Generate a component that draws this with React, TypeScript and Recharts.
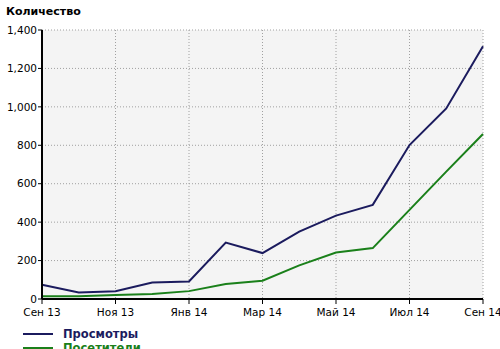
import React from 'react';
import { LineChart, Line, XAxis, YAxis, CartesianGrid, Legend } from 'recharts';

const months = ['Сен 13', 'Окт 13', 'Ноя 13', 'Дек 13', 'Янв 14', 'Фев 14', 'Мар 14', 'Апр 14', 'Май 14', 'Июн 14', 'Июл 14', 'Авг 14', 'Сен 14'];
const views = [74, 34, 40, 86, 91, 294, 239, 351, 434, 490, 801, 992, 1316];
const visitors = [14, 14, 21, 26, 41, 78, 95, 175, 242, 265, 464, 663, 859];
const xTicks = [0, 2, 4, 6, 8, 10, 12];
const yTicks = [0, 200, 400, 600, 800, 1000, 1200, 1400];

const seriesViews = { name: 'Просмотры', color: '#1b1b5e' };
const seriesVisitors = { name: 'Посетители', color: '#1a801a' };

const data = months.map((m, i) => ({ idx: i, month: m, views: views[i], visitors: visitors[i] }));

const FONT = '"DejaVu Sans", Verdana, sans-serif';

const LegendContent = () => (
  <div style={{ fontFamily: FONT, textAlign: 'left' }}>
    {[seriesViews, seriesVisitors].map((s) => (
      <div key={s.name} style={{ display: 'flex', alignItems: 'center', height: 14 }}>
        <div style={{ width: 30, height: 2, background: s.color, marginRight: 10 }} />
        <span style={{ color: s.color, fontWeight: 'bold', fontSize: 11.5 }}>{s.name}</span>
      </div>
    ))}
  </div>
);

export default function App() {
  return (
    <div style={{ position: 'absolute', left: 0, top: 0, width: 500, height: 349, background: '#fff', overflow: 'hidden' }}>
      <div style={{ position: 'absolute', left: 6, top: 5, fontFamily: FONT, fontWeight: 'bold', fontSize: 11, color: '#000' }}>
        Количество
      </div>
      <LineChart width={500} height={349} data={data} margin={{ top: 30, right: 17, bottom: 30, left: 0 }}>
        <CartesianGrid stroke="#a0a0a0" strokeDasharray="1 2" fill="#f4f4f4" />
        <XAxis
          dataKey="idx"
          type="number"
          domain={[0, 12]}
          ticks={xTicks}
          tickFormatter={(v: number) => months[v]}
          stroke="#000"
          strokeWidth={2}
          tickLine={{ stroke: '#000', strokeWidth: 1 }}
          tickSize={5}
          tickMargin={5}
          tick={{ fill: '#000', fontSize: 10.5, fontFamily: FONT }}
          height={20}
          interval={0}
        />
        <YAxis
          domain={[0, 1400]}
          ticks={yTicks}
          tickFormatter={(v: number) => v.toLocaleString('en-US')}
          stroke="#000"
          strokeWidth={2}
          tickLine={{ stroke: '#000', strokeWidth: 1 }}
          tickSize={4}
          tickMargin={1}
          tick={{ fill: '#000', fontSize: 10.5, fontFamily: FONT }}
          width={42}
          interval={0}
        />
        <Legend
          layout="horizontal"
          verticalAlign="middle"
          align="center"
          wrapperStyle={{ top: 327, left: 23, width: 200 }}
          content={<LegendContent />}
        />
        <Line type="linear" dataKey="views" name={seriesViews.name} stroke={seriesViews.color} strokeWidth={2} dot={false} isAnimationActive={false} />
        <Line type="linear" dataKey="visitors" name={seriesVisitors.name} stroke={seriesVisitors.color} strokeWidth={2} dot={false} isAnimationActive={false} />
      </LineChart>
    </div>
  );
}
